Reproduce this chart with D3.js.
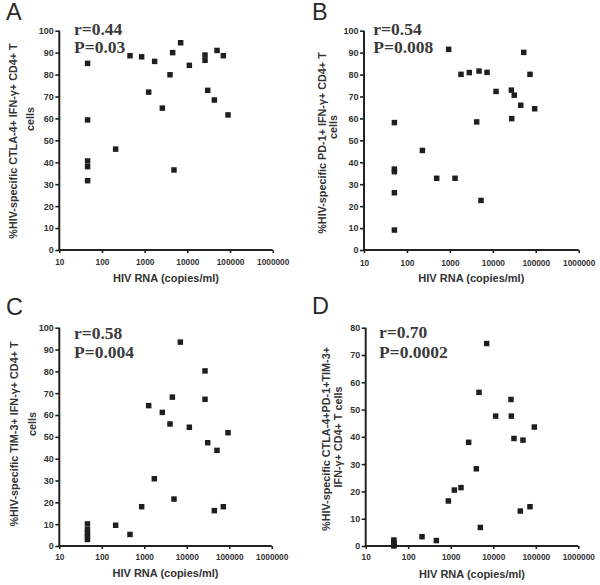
<!DOCTYPE html>
<html><head><meta charset="utf-8">
<script src="https://cdn.jsdelivr.net/npm/d3@7"></script>
<style>body{margin:0;background:#fff}svg{display:block}</style>
</head><body>
<svg id="chart" width="600" height="585"></svg>
<script>
// ---- Data ----
const xTicks = [10, 100, 1000, 10000, 100000, 1000000];
const yTicks100 = [0,10,20,30,40,50,60,70,80,90,100];
const yTicks80 = [0,10,20,30,40,50,60,70,80];

const rnaA = [46,46,46,46,46,209,453,850,1241,1714,2594,3925,4530,4870,6980,11140,25950,25950,30000,43000,49600,69800,89800];
const pctA = [85.1,59.3,40.6,38.0,31.6,46.0,88.6,88.1,72.0,86.0,64.7,79.9,90.0,36.5,94.5,84.2,88.9,86.5,72.8,68.4,91.0,88.6,61.6];

const rnaB = [51,51,51,51,51,229,493,937,1318,1815,2838,4775,4207,5310,7330,11890,27040,31600,27540,44700,52500,73400,94400];
const pctB = [58.1,36.9,35.7,26.1,9.1,45.4,32.7,91.5,32.7,80.1,80.9,81.6,58.4,22.6,81.0,72.3,72.9,70.6,59.9,66.0,90.1,80.1,64.4];

const rnaC = [46,46,46,46,46,212,461,869,1270,1726,2663,4036,4581,5012,7068,11510,26920,26920,31120,44670,51610,72770,93690];
const pctC = [10.1,7.5,6.0,4.5,3.0,9.5,5.3,18.0,64.3,30.8,61.2,55.9,68.2,21.5,93.4,54.4,80.2,67.2,47.3,16.2,43.8,18.0,51.9];

const rnaD = [46,46,46,46,46,211,459,879,1216,1742,2640,4000,4620,4965,6998,11380,26120,26600,30700,43250,50000,73100,92440];
const pctD = [2.2,1.4,0.8,0.3,0.0,3.4,2.0,16.5,20.5,21.4,38.0,28.3,56.3,6.8,74.2,47.6,53.7,47.6,39.4,12.8,38.8,14.4,43.6];

const letters = ["A","B","C","D"];
const rTexts = ["r=0.44","r=0.54","r=0.58","r=0.70"];
const pTexts = ["P=0.03","P=0.008","P=0.004","P=0.0002"];
const yTitles = [
  ["%HIV-specific CTLA-4+ IFN-\u03b3+ CD4+ T","cells"],
  ["%HIV-specific PD-1+ IFN-\u03b3+ CD4+ T","cells"],
  ["%HIV-specific TIM-3+ IFN-\u03b3+ CD4+ T","cells"],
  ["%HIV-specific CTLA-4+PD-1+TIM-3+","IFN-\u03b3+ CD4+ T cells"]
];
const xTitle = "HIV RNA (copies/ml)";

// ---- Layout ----
const panels = [
  {x0:59.3, x1:272.7, yTop:30.7, yBot:250, yMax:100, ticks:yTicks100, rna:rnaA, pct:pctA,
   letter:[6,20], stat:[74,35,53.3], xLab:265, xTit:282, yt:[[16.5,141],[34,119]]},
  {x0:364, x1:578.7, yTop:30.7, yBot:250, yMax:100, ticks:yTicks100, rna:rnaB, pct:pctB,
   letter:[312,20], stat:[373.3,34.5,53.3], xLab:266, xTit:282, yt:[[326,143],[337,127]]},
  {x0:59.3, x1:271.7, yTop:327.7, yBot:546, yMax:100, ticks:yTicks100, rna:rnaC, pct:pctC,
   letter:[6,315], stat:[74,339.3,358.3], xLab:559.6, xTit:577, yt:[[18,434],[36,424]]},
  {x0:365.7, x1:578.3, yTop:327.7, yBot:546, yMax:80, ticks:yTicks80, rna:rnaD, pct:pctD,
   letter:[312,314], stat:[379,338.3,358.3], xLab:559.6, xTit:577.5, yt:[[330,439],[341.5,437]]}
];

const svg = d3.select("#chart");
const ink = "#333";
const sansB = "'Liberation Sans', Arial, sans-serif";

panels.forEach((p, i) => {
  const g = svg.append("g");
  const x = d3.scaleLog().domain([10, 1e6]).range([p.x0, p.x1]);
  const y = d3.scaleLinear().domain([0, p.yMax]).range([p.yBot, p.yTop]);

  // Y axis
  const ya = g.append("g").attr("transform", `translate(${p.x0},0)`)
    .call(d3.axisLeft(y).tickValues(p.ticks).tickSize(4).tickPadding(1.5).tickFormat(d3.format("d")));
  // X axis
  const xa = g.append("g").attr("transform", `translate(0,${p.yBot})`)
    .call(d3.axisBottom(x).tickValues(xTicks).tickSize(3).tickPadding(2).tickFormat(d3.format("d")));

  [ya, xa].forEach(a => {
    a.select(".domain").attr("stroke", "#222").attr("stroke-width", 2);
    a.selectAll(".tick line").attr("stroke", "#222").attr("stroke-width", 1.6);
    a.selectAll("text").attr("fill", ink).attr("font-family", sansB).attr("font-weight", "bold");
  });
  ya.select(".domain").attr("d", `M0,${p.yTop}V${p.yBot + 1}`);
  xa.select(".domain").attr("d", `M${p.x0 - 1},0H${p.x1}`);
  ya.selectAll("text").attr("font-size", 9);
  xa.selectAll("text").attr("font-size", 8.3).attr("dy", null)
    .each(function(){ d3.select(this).attr("y", p.xLab - p.yBot); });

  // Points
  const pts = p.rna.map((v, k) => [v, p.pct[k]]);
  g.append("g").selectAll("path").data(pts).join("path")
    .attr("transform", d => `translate(${x(d[0])},${y(d[1])})`)
    .attr("d", d3.symbol(d3.symbolSquare, 30))
    .attr("fill", "#1e1e1e");

  // X title
  g.append("text").attr("x", (p.x0 + p.x1) / 2).attr("y", p.xTit)
    .attr("text-anchor", "middle").attr("font-family", sansB).attr("font-weight", "bold")
    .attr("font-size", 11).attr("fill", ink).text(xTitle);

  // Y title lines
  p.yt.forEach((pos, k) => {
    g.append("text").attr("transform", `translate(${pos[0]},${pos[1]}) rotate(-90)`)
      .attr("text-anchor", "middle").attr("font-family", sansB).attr("font-weight", "bold")
      .attr("font-size", 10.8).attr("fill", ink).text(yTitles[i][k]);
  });

  // Stats
  const serif = "'Liberation Serif', 'Times New Roman', serif";
  g.append("text").attr("x", p.stat[0]).attr("y", p.stat[1]).attr("font-family", serif)
    .attr("font-weight", "bold").attr("font-size", 17.5).attr("fill", "#3a3a3a").text(rTexts[i]);
  g.append("text").attr("x", p.stat[0]).attr("y", p.stat[2]).attr("font-family", serif)
    .attr("font-weight", "bold").attr("font-size", 17.5).attr("fill", "#3a3a3a").text(pTexts[i]);

  // Panel letter
  g.append("text").attr("x", p.letter[0]).attr("y", p.letter[1]).attr("font-family", sansB)
    .attr("font-size", 23.5).attr("fill", "#2a2a2a").text(letters[i]);
});
</script>
</body></html>
